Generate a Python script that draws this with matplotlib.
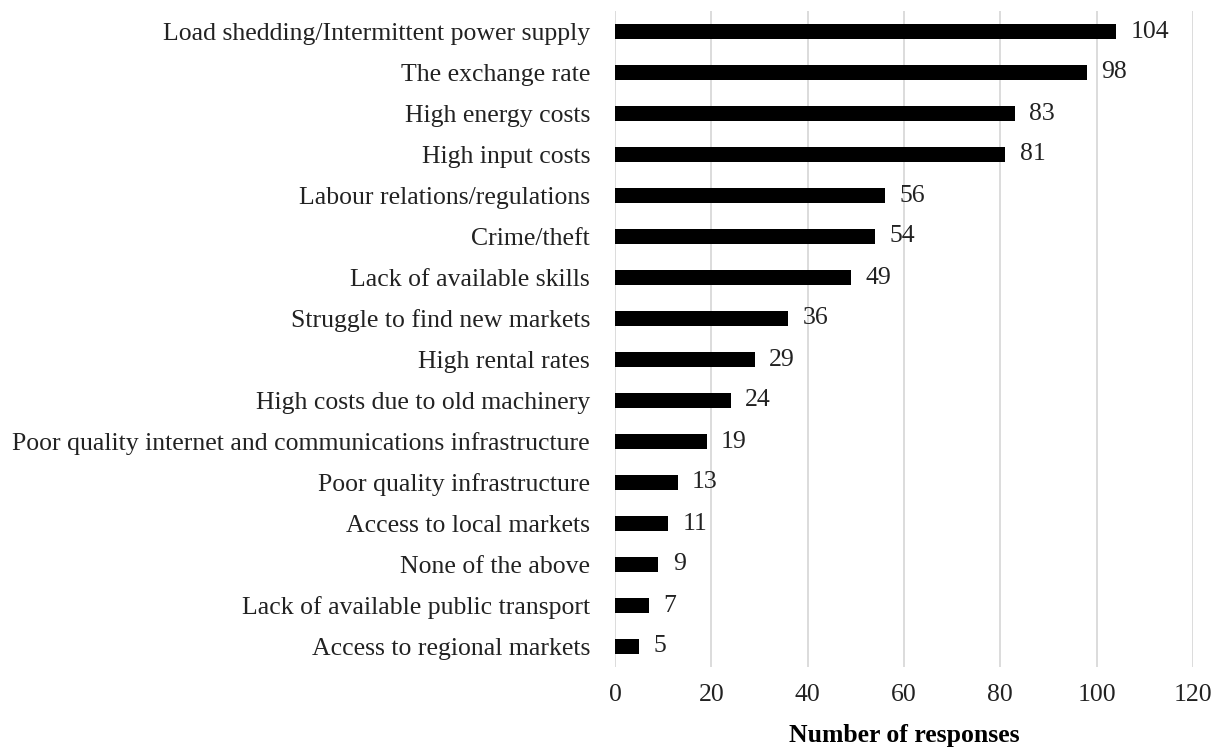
import matplotlib
matplotlib.use("Agg")
import matplotlib.pyplot as plt

categories = [
    "Load shedding/Intermittent power supply",
    "The exchange rate",
    "High energy costs",
    "High input costs",
    "Labour relations/regulations",
    "Crime/theft",
    "Lack of available skills",
    "Struggle to find new markets",
    "High rental rates",
    "High costs due to old machinery",
    "Poor quality internet and communications infrastructure",
    "Poor quality infrastructure",
    "Access to local markets",
    "None of the above",
    "Lack of available public transport",
    "Access to regional markets",
]
responses = [104, 98, 83, 81, 56, 54, 49, 36, 29, 24, 19, 13, 11, 9, 7, 5]
x_ticks = [0, 20, 40, 60, 80, 100, 120]

plt.rcParams["font.family"] = ["Liberation Serif", "DejaVu Serif"]
fs = 18.5

fig = plt.figure(figsize=(12.19, 7.49), dpi=100)
ax = fig.add_axes([615 / 1219, 82 / 749, 578 / 1219, 656 / 749])

pos = list(range(len(categories)))
ax.barh(pos, responses, height=0.37, color="black", zorder=3)
for p, v in zip(pos, responses):
    ax.text(v + 3.0, p, str(v), va="center", ha="left", fontsize=fs, color="#222222")

ax.set_ylim(len(categories) - 0.5, -0.5)
ax.set_xlim(0, 120)
ax.set_yticks(pos)
ax.set_yticklabels(categories, fontsize=fs, color="#222222")
ax.set_xticks(x_ticks)
ax.set_xticklabels([str(t) for t in x_ticks], fontsize=fs, color="#222222")
ax.tick_params(axis="both", length=0)
ax.tick_params(axis="y", pad=18)
ax.tick_params(axis="x", pad=12)
ax.grid(axis="x", color="#d9d9d9", linewidth=1.3, zorder=0)
for s in ax.spines.values():
    s.set_visible(False)
ax.set_xlabel("Number of responses", fontsize=fs, fontweight="bold", labelpad=13)

fig.savefig("out.png", dpi=100)
